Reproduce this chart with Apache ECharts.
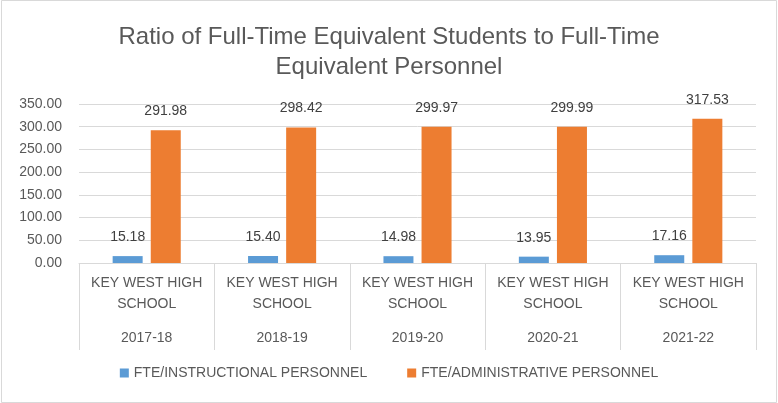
<!DOCTYPE html>
<html>
<head>
<meta charset="utf-8">
<script src="https://cdn.jsdelivr.net/npm/echarts@6/dist/echarts.min.js"></script>
<style>
html, body { margin: 0; padding: 0; background: #fff; }
#chart { width: 778px; height: 403px; }
</style>
</head>
<body>
<div id="chart"></div>
<script>
var schools = ['KEY WEST HIGH SCHOOL', 'KEY WEST HIGH SCHOOL', 'KEY WEST HIGH SCHOOL', 'KEY WEST HIGH SCHOOL', 'KEY WEST HIGH SCHOOL'];
var years = ['2017-18', '2018-19', '2019-20', '2020-21', '2021-22'];
var instructional = [15.18, 15.40, 14.98, 13.95, 17.16];
var administrative = [291.98, 298.42, 299.97, 299.99, 317.53];
var yTicks = [0, 50, 100, 150, 200, 250, 300, 350];

var myChart = echarts.init(document.getElementById('chart'));
var txt = '#595959';
var font = 'Liberation Sans';

// 类别标签：学校名 + 年份
var catLabels = years.map(function (y, i) {
    return schools[i].replace(' SCHOOL', '\nSCHOOL') + '\n{y|' + y + '}';
});

var option = {
    backgroundColor: '#fff',
    textStyle: { fontFamily: font },
    title: {
        text: 'Ratio of Full-Time Equivalent Students to Full-Time\nEquivalent Personnel',
        left: 'center',
        top: 17,
        textStyle: { fontSize: 24, fontWeight: 'normal', color: txt, lineHeight: 30, fontFamily: font }
    },
    legend: {
        data: ['FTE/INSTRUCTIONAL PERSONNEL', 'FTE/ADMINISTRATIVE PERSONNEL'],
        bottom: 18,
        left: 'center',
        itemWidth: 9,
        itemHeight: 9,
        itemGap: 40,
        icon: 'rect',
        textStyle: { fontSize: 14, color: txt, fontFamily: font }
    },
    grid: { left: 79, right: 22, top: 104, bottom: 140 },
    xAxis: {
        type: 'category',
        data: catLabels,
        axisLine: { lineStyle: { color: '#d9d9d9' } },
        axisTick: { show: true, length: 87, interval: 0, lineStyle: { color: '#d9d9d9' } },
        axisLabel: {
            interval: 0,
            margin: 10,
            fontSize: 14,
            color: txt,
            lineHeight: 21,
            align: 'center',
            rich: { y: { fontSize: 14, color: txt, lineHeight: 47 } }
        }
    },
    yAxis: {
        type: 'value',
        min: yTicks[0],
        max: yTicks[yTicks.length - 1],
        interval: 50,
        axisLine: { show: false },
        axisTick: { show: false },
        splitLine: { lineStyle: { color: '#d9d9d9' } },
        axisLabel: {
            fontSize: 14,
            color: txt,
            margin: 17,
            formatter: function (v) { return v.toFixed(2); }
        }
    },
    series: [
        {
            name: 'FTE/INSTRUCTIONAL PERSONNEL',
            type: 'bar',
            data: instructional,
            barWidth: 30,
            barGap: '27%',
            itemStyle: { color: '#5B9BD5' },
            label: {
                show: true, position: 'top', distance: 12, fontSize: 14, color: '#404040',
                formatter: function (p) { return p.value.toFixed(2); }
            }
        },
        {
            name: 'FTE/ADMINISTRATIVE PERSONNEL',
            type: 'bar',
            data: administrative,
            barWidth: 30,
            barGap: '27%',
            itemStyle: { color: '#ED7D31' },
            label: {
                show: true, position: 'top', distance: 12, fontSize: 14, color: '#404040',
                formatter: function (p) { return p.value.toFixed(2); }
            }
        }
    ],
    graphic: [{
        type: 'rect',
        shape: { x: 1.5, y: 0.5, width: 775, height: 402 },
        style: { fill: 'none', stroke: '#d9d9d9', lineWidth: 1 },
        silent: true
    }]
};
myChart.setOption(option);
</script>
</body>
</html>
